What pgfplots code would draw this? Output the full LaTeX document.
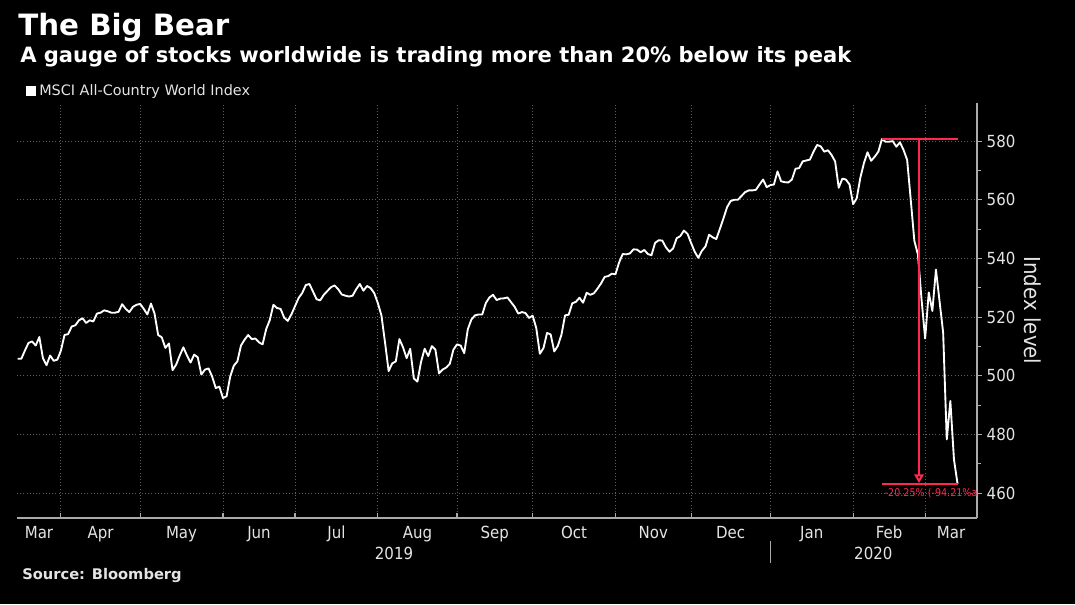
\documentclass[border=0pt]{standalone}
\usepackage{fontspec}
\setmainfont{DejaVu Sans}
\IfFontExistsTF{DejaVu Sans Condensed}{\newfontfamily\cond{DejaVu Sans Condensed}}{\newfontfamily\cond{PT Sans}}
\usepackage{pgfplots}
\pgfplotsset{compat=1.18}
\usetikzlibrary{arrows.meta}
\definecolor{bbred}{RGB}{255,40,80}
\definecolor{gridc}{RGB}{95,95,95}
\definecolor{axc}{RGB}{170,170,170}
\definecolor{txt}{RGB}{228,228,228}

\pgfplotstableread{
idx val
-12 505.8
-11 505.8
-10 508.6
-9 511.2
-8 511.7
-7 510.3
-6 513.2
-5 506.0
-4 503.6
-3 506.9
-2 505.1
-1 505.5
0 508.6
1 513.9
2 514.2
3 516.8
4 517.2
5 518.9
6 519.6
7 518.0
8 518.9
9 518.5
10 521.2
11 521.5
12 522.3
13 522.0
14 521.5
15 521.5
16 521.8
17 524.4
18 522.8
19 521.7
20 523.5
21 524.2
22 524.5
23 522.8
24 520.9
25 524.6
26 521.2
27 513.9
28 513.1
29 509.5
30 511.0
31 501.9
32 503.8
33 506.9
34 509.7
35 506.9
36 504.5
37 507.2
38 506.3
39 500.4
40 502.1
41 502.5
42 499.7
43 495.8
44 496.3
45 492.4
46 493.0
47 499.7
48 503.4
49 504.9
50 510.3
51 512.3
52 513.9
53 512.5
54 512.7
55 511.4
56 510.7
57 515.9
58 519.0
59 524.2
60 523.1
61 522.8
62 519.8
63 518.7
64 520.9
65 523.7
66 526.5
67 528.2
68 530.9
69 531.3
70 528.7
71 526.1
72 525.7
73 527.6
74 528.9
75 530.2
76 530.8
77 529.5
78 527.7
79 527.3
80 527.0
81 527.3
82 529.5
83 531.3
84 529.0
85 530.6
86 529.9
87 528.2
88 524.8
89 520.6
90 511.4
91 501.6
92 504.2
93 504.9
94 512.5
95 509.7
96 506.0
97 509.2
98 499.1
99 498.0
100 504.7
101 509.2
102 506.7
103 510.1
104 508.9
105 500.8
106 502.1
107 502.8
108 504.1
109 508.9
110 510.7
111 510.3
112 507.7
113 515.9
114 519.2
115 520.6
116 520.9
117 520.9
118 524.8
119 526.7
120 527.6
121 525.8
122 526.3
123 526.4
124 526.7
125 525.1
126 523.5
127 521.2
128 521.7
129 521.4
130 519.7
131 520.5
132 516.3
133 507.5
134 509.4
135 514.6
136 514.1
137 508.3
138 510.2
139 514.0
140 520.6
141 520.8
142 524.7
143 525.2
144 526.6
145 524.9
146 528.3
147 527.6
148 528.1
149 529.7
150 531.5
151 533.7
152 534.0
153 534.8
154 534.6
155 538.6
156 541.5
157 541.4
158 541.7
159 543.1
160 543.0
161 542.1
162 542.9
163 541.5
164 541.1
165 545.3
166 546.2
167 546.1
168 543.8
169 542.3
170 543.4
171 546.9
172 547.6
173 549.5
174 548.4
175 545.3
176 542.3
177 540.2
178 542.6
179 544.1
180 548.1
181 547.2
182 546.6
183 550.1
184 553.7
185 557.5
186 559.6
187 560.0
188 560.0
189 561.3
190 562.6
191 563.2
192 563.2
193 563.4
194 565.2
195 566.9
196 564.3
197 565.0
198 565.2
199 569.7
200 566.3
201 566.0
202 565.9
203 566.9
204 570.6
205 570.8
206 573.1
207 573.4
208 573.7
209 576.4
210 578.7
211 578.2
212 576.4
213 576.9
214 575.3
215 573.1
216 564.1
217 567.2
218 566.9
219 565.2
220 558.5
221 560.5
222 567.5
223 572.5
224 576.2
225 573.3
226 574.7
227 576.4
228 580.7
229 579.8
230 579.8
231 580.0
232 578.1
233 579.6
234 577.0
235 573.6
236 560.0
237 546.0
238 541.3
239 526.0
240 512.7
241 528.4
242 522.1
243 536.2
244 525.4
245 514.7
246 478.3
247 491.4
248 471.5
249 463.1
}\acwi

\begin{document}
\begin{tikzpicture}[x=0.75pt,y=0.75pt]
\fill[black] (0,0) rectangle (1075,604);
\path[use as bounding box] (0,0) rectangle (1075,604);
\begin{axis}[
  at={(12.75pt,64.5pt)}, anchor=south west,
  width=720pt, height=311.25pt, scale only axis,
  xmin=-12.2, xmax=254.4, ymin=451.5, ymax=593,
  clip=false,
  axis x line*=bottom, axis y line*=right,
  axis line style={axc, line width=0.8pt, -},
  xtick={0,22,45,65,88,110,131,154,175,197,220,240},
  xticklabels={},
  extra x ticks={-6.1,11,33.5,55,76.5,99,120.5,142.5,164.5,186,208.5,230,247.2},
  extra x tick labels={Mar,Apr,May,Jun,Jul,Aug,Sep,Oct,Nov,Dec,Jan,Feb,Mar},
  extra x tick style={grid=none, major tick length=0pt},
  ytick={460,480,...,580},
  minor ytick={470,490,...,570},
  xmajorgrids, ymajorgrids,
  major grid style={gridc, dotted, line width=0.7pt},
  tick style={axc, line width=0.8pt},
  major tick length=3.75pt, minor tick length=3pt,
  xtick align=inside, ytick align=outside,
  /pgf/number format/assume math mode=true,
  yticklabel style={font=\cond\fontsize{12.5}{12.5}\selectfont, txt, anchor=west},
  xticklabel style={font=\cond\fontsize{12.5}{12.5}\selectfont, txt, anchor=base, yshift=-15pt},
]
\addplot[white, line width=1.4pt, line join=round] table[x=idx,y=val] {\acwi};
\addplot[bbred, line width=1.9pt] coordinates {(228,580.7) (249,580.7)};
\addplot[bbred, line width=1.9pt] coordinates {(228,463.1) (249,463.1)};
\draw[bbred, line width=1.5pt, -{Triangle[open, length=6.5pt, width=7pt]}] (axis cs:238.3,580.7) -- (axis cs:238.3,463.4);
\node[anchor=base west, inner sep=0, bbred, font=\cond\fontsize{8}{8}\selectfont] at (axis cs:228.7,458.9) {-20.25\% (-94.21\%a};
\node[anchor=base, inner sep=0, txt, font=\cond\fontsize{12.5}{12.5}\selectfont] at (axis cs:92.5,437.5) {2019};
\node[anchor=base, inner sep=0, txt, font=\cond\fontsize{12.5}{12.5}\selectfont] at (axis cs:225.6,437.5) {2020};
\draw[axc, line width=0.8pt] (axis cs:197,443.6) -- (axis cs:197,436.1);
\node[rotate=-90, txt, font=\cond\fontsize{16.5}{16.5}\selectfont] at ([xshift=42pt]rel axis cs:1,0.5) {Index level};
\end{axis}
\node[anchor=base west, inner sep=0, white, font=\bfseries\fontsize{22}{22}\selectfont] at (18,568) {The Big Bear};
\node[anchor=base west, inner sep=0, white, font=\bfseries\fontsize{15.8}{15.8}\selectfont] at (20,541) {A gauge of stocks worldwide is trading more than 20\% below its peak};
\fill[white] (26,508) rectangle (36,518);
\node[anchor=base west, inner sep=0, txt, font=\fontsize{10.8}{10.8}\selectfont] at (39,508) {MSCI All-Country World Index};
\node[anchor=base west, inner sep=0, txt, font=\bfseries\fontsize{11}{11}\selectfont] at (22,25) {Source: Bloomberg};
\end{tikzpicture}
\end{document}
